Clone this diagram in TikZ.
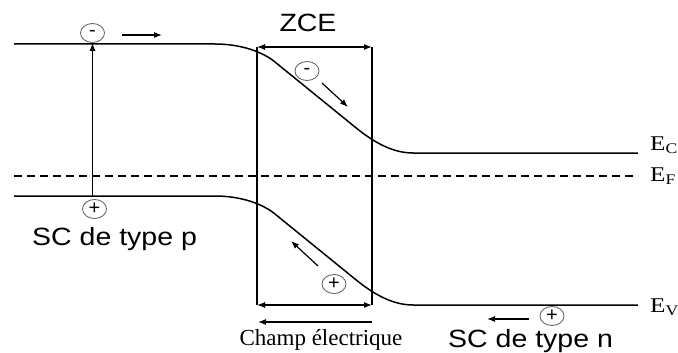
\documentclass[tikz,border=0pt]{standalone}
\usepackage{fontspec}
\setmainfont{Liberation Serif}
\setsansfont{Liberation Sans}
\newfontfamily\scfont[FakeStretch=1.14]{Liberation Sans}
\newfontfamily\efont[FakeStretch=1.2]{Liberation Serif}
\usepackage{tikz}
\usetikzlibrary{arrows.meta,positioning,shapes.geometric}

\begin{document}
\begin{tikzpicture}[
  x=1pt, y=-1pt,
  band/.style={line width=1.5pt},
  fermi/.style={line width=1.4pt, dash pattern=on 8pt off 5pt},
  wall/.style={line width=1.1pt},
  chg/.style={ellipse, draw=black!65, line width=0.8pt, inner sep=0pt, minimum width=24pt, minimum height=19pt, font=\sffamily\fontsize{20}{20}\selectfont},
  sc/.style={inner sep=0pt, font=\scfont\fontsize{25}{25}\selectfont},
  elbl/.style={inner sep=0pt, anchor=base west, font=\efont\fontsize{21}{21}\selectfont},
  arr/.style={-{Latex[length=8pt,width=6pt]}, line width=1.2pt},
  dbl/.style={{Latex[length=8pt,width=6pt]}-{Latex[length=8pt,width=6pt]}, line width=1.2pt}
]
\useasboundingbox (0,0) rectangle (678,353);
% bands
\draw[band] (14,44) -- (215,44) .. controls (240,44) and (262,51.4) .. (275,62) -- (355,127) .. controls (370,139.2) and (390,153) .. (413,153) -- (638,153);
\draw[band] (14,196) -- (215,196) .. controls (240,196) and (262,203.4) .. (275,214) -- (355,279) .. controls (370,291.2) and (390,305) .. (413,305) -- (638,305);
\draw[fermi] (14,176) -- (638,176);
\node[elbl] (ec) at (650,150) {E\textsubscript{C}};
\node[elbl] (ef) at (650,181) {E\textsubscript{F}};
\node[elbl] (ev) at (650,312) {E\textsubscript{V}};
% zone de charge d'espace
\coordinate (zt1) at (257,47);
\coordinate (zt2) at (372,47);
\coordinate (zb1) at (257,305);
\coordinate (zb2) at (372,305);
\draw[wall] (zt1) -- (zb1);
\draw[wall] (zt2) -- (zb2);
\draw[dbl] (zt1) -- (zt2);
\draw[dbl] (zb1) -- (zb2);
\node[sc, anchor=base] (zce) at (308,32) {ZCE};
\coordinate (ce1) at (372,322);
\coordinate (ce2) at (258,322);
\draw[arr] (ce1) -- (ce2);
\node[inner sep=0pt, anchor=base, font=\fontsize{23}{23}\selectfont] (champ) at (321,345) {Champ électrique};
% charges
\node[chg] (m1) at (92.5,33) {-};
\node[chg] (m2) at (307,71) {-};
\node[chg] (p1) at (94.5,209) {+};
\node[chg] (p2) at (334,284) {+};
\node[chg] (p3) at (552,316) {+};
\coordinate (gen) at (92.5,196);
\draw[arr] (gen) -- (m1.south);
\coordinate (a1s) at (122,35);
\coordinate (a1e) at (162,35);
\draw[arr] (a1s) -- (a1e);
\coordinate (a2s) at (322,83);
\coordinate (a2e) at (348,107);
\draw[arr] (a2s) -- (a2e);
\coordinate (a3s) at (318,266);
\coordinate (a3e) at (291,241);
\draw[arr] (a3s) -- (a3e);
\coordinate (a4s) at (529,319);
\coordinate (a4e) at (487,319);
\draw[arr] (a4s) -- (a4e);
% types
\node[sc, anchor=base west] (scp) at (32,245) {SC de type p};
\node[sc, anchor=base west] (scn) at (448,347) {SC de type n};
\end{tikzpicture}
\end{document}
